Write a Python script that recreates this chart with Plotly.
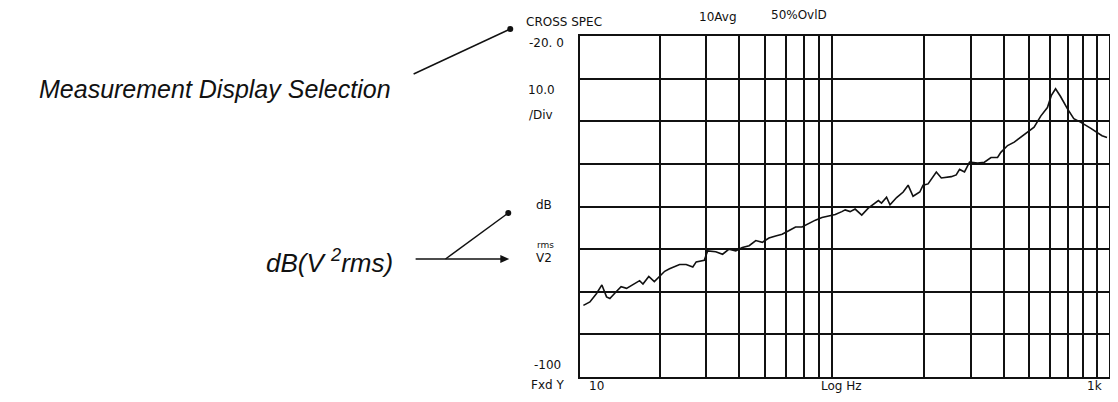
import plotly.graph_objects as go

# cross spectrum trace (Hz, dB V^2 rms)
freq_hz = [10.3, 10.9, 11.55, 12.1, 12.6, 12.97, 13.7, 14.3, 15.0, 15.9,
           16.8, 17.3, 18.2, 19.1, 20.0, 20.9, 21.8, 23.8, 25.2, 26.7,
           27.5, 29.5, 30.4, 32.6, 34.6, 36.6, 38.8, 41.1, 43.6, 46.2,
           48.9, 51.8, 54.9, 58.1, 61.5, 65.3, 69.1, 73.2, 77.6, 82.2,
           87.1, 92.3, 97.7, 100.6, 105, 109.7, 116.2, 123, 134.3, 138,
           144.2, 148.6, 157.4, 166.7, 174, 181.6, 192.6, 198.2, 207, 222.4,
           232.3, 253.3, 264.4, 272.3, 284.3, 297, 319, 338, 358, 379,
           390, 413.6, 438.3, 464, 491.7, 521, 552, 585, 605, 628,
           656, 695, 736, 780, 851, 901, 941, 983]
level_db = [-83.2, -82.4, -80.4, -78.4, -81.2, -81.6, -80.0, -78.8, -79.2, -78.2,
            -77.4, -78.2, -76.4, -77.6, -76.4, -75.2, -74.6, -73.6, -73.6, -74.2,
            -73.0, -72.6, -70.4, -70.6, -71.2, -70.0, -70.4, -69.6, -69.2, -68.0,
            -68.4, -67.4, -66.9, -66.5, -65.7, -64.8, -64.8, -64.0, -63.2, -62.6,
            -62.2, -61.9, -61.2, -60.8, -61.2, -60.6, -62.0, -60.4, -58.6, -59.2,
            -57.8, -59.6, -57.9, -56.6, -55.0, -57.6, -56.6, -55.0, -54.7, -51.9,
            -53.3, -53.0, -52.6, -51.3, -51.9, -49.6, -49.8, -49.6, -48.5, -48.5,
            -47.3, -45.7, -44.9, -43.7, -42.6, -41.4, -38.8, -36.8, -34.0, -32.4,
            -34.2, -37.0, -39.4, -40.2, -41.6, -42.6, -43.4, -43.8]

x_grid = [20, 30, 40, 50, 60, 70, 80, 90, 200, 300, 400, 500, 600, 700, 800, 900]

# page body adds a small margin, so screen px = figure px + OFF
OFF = 8
W, H = 1106, 390
L, T = 580 - OFF, 36 - OFF
R = W - (1111 - OFF)
B = H - (377 - OFF)
PW, PH = W - L - R, H - T - B


def px(x):
    return (x - OFF - L) / PW


def py(y):
    return (H - B - (y - OFF)) / PH


PLOT_FONT = dict(family="DejaVu Sans", size=12, color="#111")
INK = "#111"

fig = go.Figure()
fig.add_trace(go.Scatter(x=freq_hz, y=level_db, mode="lines",
                         line=dict(color=INK, width=1.6), showlegend=False))

labels = [
    ("CROSS SPEC", 524, 22, "left"),
    ("10Avg", 697, 17, "left"),
    ("50%OvlD", 770, 15, "left"),
    ("-20. 0", 566, 43, "right"),
    ("10.0", 541, 90, "center"),
    ("/Div", 541, 115, "center"),
    ("dB", 534, 205, "left"),
    ("rms", 535, 245, "left"),
    ("V2", 534, 258, "left"),
    ("-100", 563, 365, "right"),
    ("Fxd Y", 566, 385, "right"),
    ("10", 597, 386, "center"),
    ("Log Hz", 820, 386, "left"),
    ("1k", 1106, 386, "right"),
]
for text, x, y, anchor in labels:
    size = 9 if text == "rms" else 12
    fig.add_annotation(text=text, x=px(x), y=py(y), xref="paper", yref="paper",
                       xanchor=anchor, yanchor="middle", showarrow=False,
                       font=dict(PLOT_FONT, size=size))

fig.add_annotation(text="<i>Measurement Display Selection</i>", x=px(392), y=py(89),
                   xref="paper", yref="paper", xanchor="right", yanchor="middle",
                   showarrow=False,
                   font=dict(family="Liberation Sans", size=25, color=INK))
fig.add_annotation(text="<i>dB(V <sup>2</sup>rms)</i>", x=px(394), y=py(261),
                   xref="paper", yref="paper", xanchor="right", yanchor="middle",
                   showarrow=False,
                   font=dict(family="Liberation Sans", size=26, color=INK))

# pointer lines (screen px)
pointer_lines = [
    ((413, 74), (510, 29)),
    ((445, 259), (508, 213)),
    ((415, 259), (502, 259)),
]
for (x0, y0), (x1, y1) in pointer_lines:
    fig.add_shape(type="line", xref="paper", yref="paper",
                  x0=px(x0), y0=py(y0), x1=px(x1), y1=py(y1),
                  line=dict(color=INK, width=1.5))

for cx, cy in [(510, 29), (508, 213)]:
    fig.add_shape(type="circle", xref="paper", yref="paper",
                  x0=px(cx - 3), y0=py(cy + 3), x1=px(cx + 3), y1=py(cy - 3),
                  fillcolor=INK, line=dict(color=INK, width=0))

fig.add_shape(type="path", xref="paper", yref="paper",
              path=f"M {px(509)},{py(259)} L {px(500)},{py(255)} L {px(500)},{py(263)} Z",
              fillcolor=INK, line=dict(color=INK, width=0))

fig.update_layout(
    width=W, height=H,
    margin=dict(l=L, r=R, t=T, b=B),
    paper_bgcolor="white", plot_bgcolor="white",
    font=dict(family="Liberation Sans"),
)
fig.update_xaxes(type="log", range=[1, 3], tickvals=x_grid, showticklabels=False,
                 ticks="", showgrid=True, gridcolor=INK, gridwidth=2,
                 showline=True, linecolor=INK, linewidth=2, mirror=True,
                 zeroline=False)
fig.update_yaxes(range=[-100, -20], dtick=10, showticklabels=False, ticks="",
                 showgrid=True, gridcolor=INK, gridwidth=2,
                 showline=True, linecolor=INK, linewidth=2, mirror=True,
                 zeroline=False)

fig.write_html("out.html")
